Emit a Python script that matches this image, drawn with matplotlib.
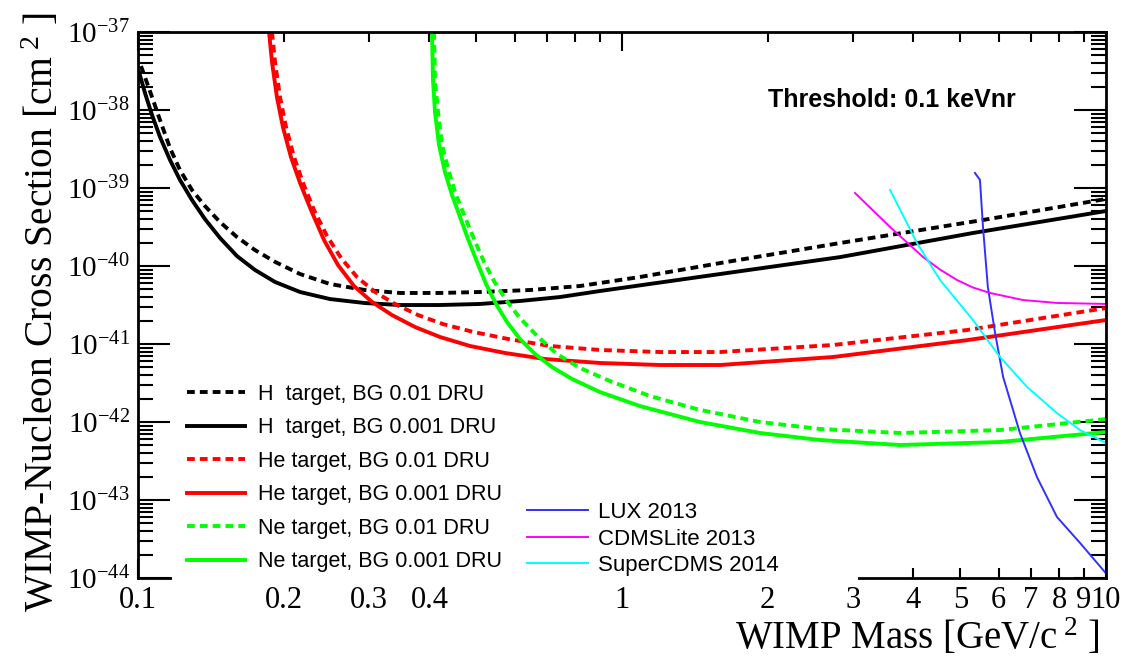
import numpy as np
import matplotlib
matplotlib.use("Agg")
import matplotlib.pyplot as plt
from matplotlib.ticker import FixedLocator, FixedFormatter, FuncFormatter, NullFormatter
from matplotlib.patches import Rectangle

plt.rcParams['font.family'] = 'Liberation Serif'
plt.rcParams['mathtext.fontset'] = 'custom'
plt.rcParams['mathtext.rm'] = 'Liberation Serif'
plt.rcParams['mathtext.it'] = 'Liberation Serif:italic'
plt.rcParams['mathtext.bf'] = 'Liberation Serif:bold'

# ---- projected sensitivities: WIMP mass [GeV/c^2] vs cross section [cm^2] ----
h_bg01_mass = [0.10144, 0.10388, 0.10689, 0.11103, 0.11644, 0.12210, 0.12927, 0.13750, 0.14770,
               0.16016, 0.17449, 0.19192, 0.21619, 0.24921, 0.29444, 0.34771, 0.42070, 0.50869,
               0.64532, 0.81895, 1.0894, 1.5939, 2.8210, 5.5695, 10.0]
h_bg01_xsec = [3.66e-38, 2.42e-38, 1.47e-38, 7.44e-39, 3.26e-39, 1.70e-39, 9.43e-40, 5.88e-40,
               3.66e-40, 2.35e-40, 1.60e-40, 1.13e-40, 7.89e-41, 5.88e-41, 4.92e-41, 4.51e-41,
               4.51e-41, 4.64e-41, 4.92e-41, 5.54e-41, 7.23e-41, 1.09e-40, 1.97e-40, 3.89e-40,
               7.23e-40]

h_bg001_mass = [0.10048, 0.10339, 0.10689, 0.11103, 0.11644, 0.12210, 0.12927, 0.13750, 0.14770,
                0.16016, 0.17449, 0.19192, 0.21619, 0.24921, 0.29444, 0.34771, 0.42070, 0.50869,
                0.61534, 0.74434, 0.90065, 1.5939, 2.8210, 5.3114, 10.0]
h_bg001_xsec = [3.07e-38, 1.65e-38, 8.63e-39, 4.51e-39, 2.29e-39, 1.27e-39, 7.02e-40, 4.00e-40,
                2.29e-40, 1.34e-40, 8.89e-41, 6.24e-41, 4.64e-41, 3.77e-41, 3.35e-41, 3.16e-41,
                3.16e-41, 3.26e-41, 3.56e-41, 4.00e-41, 4.78e-41, 7.89e-41, 1.30e-40, 2.65e-40,
                5.07e-40]

he_bg01_mass = [0.18918, 0.19192, 0.19653, 0.20222, 0.21008, 0.21929, 0.23101, 0.24582, 0.26267,
                0.28342, 0.30885, 0.33953, 0.37899, 0.42675, 0.49225, 0.58147, 0.70986, 0.90065,
                1.1981, 1.5939, 2.7286, 5.1606, 10.0]
he_bg01_xsec = [1.0e-37, 4.12e-38, 1.47e-38, 6.05e-39, 2.50e-39, 1.16e-39, 5.22e-40, 2.42e-40,
                1.27e-40, 7.23e-41, 4.64e-41, 3.26e-41, 2.35e-41, 1.80e-41, 1.43e-41, 1.16e-41,
                9.43e-42, 8.38e-42, 7.89e-42, 7.89e-42, 9.71e-42, 1.51e-41, 2.89e-41]

he_bg001_mass = [0.18651, 0.18918, 0.19364, 0.19925, 0.20700, 0.21619, 0.22774, 0.24233, 0.25895,
                 0.27941, 0.30448, 0.33473, 0.37362, 0.42070, 0.48527, 0.57322, 0.69337, 0.90065,
                 1.1981, 1.5939, 2.7286, 5.1606, 10.0]
he_bg001_xsec = [1.0e-37, 4.12e-38, 1.47e-38, 6.05e-39, 2.50e-39, 1.16e-39, 5.22e-40, 2.15e-40,
                 1.03e-40, 5.54e-41, 3.46e-41, 2.35e-41, 1.65e-41, 1.23e-41, 9.43e-42, 7.67e-42,
                 6.42e-42, 5.71e-42, 5.38e-42, 5.38e-42, 6.81e-42, 1.12e-41, 2.03e-41]

ne_bg01_mass = [0.40884, 0.41079, 0.41670, 0.42471, 0.43909, 0.45396, 0.47383, 0.49459, 0.51869,
                0.54393, 0.57596, 0.61534, 0.66755, 0.73378, 0.81895, 0.94450, 1.1427, 1.4493,
                1.9281, 2.5646, 3.7528, 6.0389, 10.0]
ne_bg01_xsec = [1.0e-37, 2.42e-38, 9.43e-39, 3.56e-39, 1.60e-39, 8.14e-40, 4.25e-40, 2.22e-40,
                1.13e-40, 6.42e-41, 3.66e-41, 2.15e-41, 1.27e-41, 7.44e-42, 4.92e-42, 3.35e-42,
                2.15e-42, 1.43e-42, 1.0e-42, 8.14e-43, 7.23e-43, 7.89e-43, 1.09e-42]

ne_bg001_mass = [0.40497, 0.40690, 0.41079, 0.41869, 0.43082, 0.44540, 0.46268, 0.48064, 0.50168,
                 0.52365, 0.54913, 0.57871, 0.61534, 0.66123, 0.71665, 0.78836, 0.90065, 1.0894,
                 1.4493, 1.9281, 2.5646, 3.7528, 6.0389, 10.0]
ne_bg001_xsec = [1.0e-37, 2.42e-38, 9.43e-39, 3.56e-39, 1.60e-39, 8.14e-40, 4.25e-40, 2.22e-40,
                 1.13e-40, 5.88e-41, 3.26e-41, 1.91e-41, 1.16e-41, 7.44e-42, 5.07e-42, 3.56e-42,
                 2.42e-42, 1.60e-42, 1.0e-42, 7.23e-43, 5.88e-43, 5.07e-43, 5.54e-43, 7.44e-43]

# ---- published experimental limits ----
lux_mass = [5.36, 5.49, 5.57, 5.70, 5.90, 6.13, 6.64, 7.20, 7.92, 8.84, 9.95]
lux_xsec = [1.56e-39, 1.27e-39, 3.16e-40, 5.38e-41, 1.38e-41, 3.78e-42, 7.23e-43, 1.97e-43,
            6.05e-44, 2.81e-44, 1.19e-44]

cdmslite_mass = [3.03, 3.58, 4.19, 4.539, 4.92, 5.311, 5.76, 6.74, 7.92, 10.0]
cdmslite_xsec = [8.63e-40, 3.16e-40, 1.30e-40, 9.02e-41, 6.62e-41, 5.30e-41, 4.51e-41, 3.66e-41,
                 3.36e-41, 3.26e-41]

supercdms_mass = [3.58, 4.07, 4.54, 5.31, 6.04, 6.87, 7.92, 8.84, 10.0]
supercdms_xsec = [9.42e-40, 1.97e-40, 6.62e-41, 2.03e-41, 6.81e-42, 2.81e-42, 1.30e-42,
                  7.89e-43, 5.38e-43]

target_labels = ["H  target, BG 0.01 DRU", "H  target, BG 0.001 DRU",
                 "He target, BG 0.01 DRU", "He target, BG 0.001 DRU",
                 "Ne target, BG 0.01 DRU", "Ne target, BG 0.001 DRU"]
limit_labels = ["LUX 2013", "CDMSLite 2013", "SuperCDMS 2014"]

x_major = [0.1, 1, 10]
x_major_labels = ["0.1", "1", "10"]
x_minor = [0.2, 0.3, 0.4, 0.5, 0.6, 0.7, 0.8, 0.9, 2, 3, 4, 5, 6, 7, 8, 9]
x_minor_labels = ["0.2", "0.3", "0.4", "", "", "", "", "", "2", "3", "4", "5", "6", "7", "8", "9"]
y_decades = [-44, -43, -42, -41, -40, -39, -38, -37]

W, H = 1122, 663
fig = plt.figure(figsize=(W / 100, H / 100), dpi=100)
ax = fig.add_axes([138 / W, 1 - 578 / H, (1106 - 138) / W, (578 - 32) / H])
ax.set_xscale('log')
ax.set_yscale('log')
ax.set_xlim(0.1, 10)
ax.set_ylim(1e-44, 1e-37)

thick = 2.8
dash = (0, (2.0, 1.3))
green = '#00ff00'
l1, = ax.plot(h_bg01_mass, h_bg01_xsec, color='black', lw=thick, ls=dash)
l2, = ax.plot(h_bg001_mass, h_bg001_xsec, color='black', lw=thick)
l3, = ax.plot(he_bg01_mass, he_bg01_xsec, color='#ff0000', lw=thick, ls=dash)
l4, = ax.plot(he_bg001_mass, he_bg001_xsec, color='#ff0000', lw=thick)
l5, = ax.plot(ne_bg01_mass, ne_bg01_xsec, color=green, lw=thick, ls=dash)
l6, = ax.plot(ne_bg001_mass, ne_bg001_xsec, color=green, lw=thick)
m1, = ax.plot(lux_mass, lux_xsec, color='#3030ff', lw=1.4)
m2, = ax.plot(cdmslite_mass, cdmslite_xsec, color='#ff00ff', lw=1.4)
m3, = ax.plot(supercdms_mass, supercdms_xsec, color='#00ffff', lw=1.4)

for s in ax.spines.values():
    s.set_linewidth(2.0)

ax.xaxis.set_major_locator(FixedLocator(x_major))
ax.xaxis.set_major_formatter(FixedFormatter(x_major_labels))
ax.xaxis.set_minor_locator(FixedLocator(x_minor))
ax.xaxis.set_minor_formatter(FixedFormatter(x_minor_labels))
ax.yaxis.set_major_locator(FixedLocator([10.0 ** d for d in y_decades]))
ax.yaxis.set_minor_locator(FixedLocator([k * 10.0 ** d for d in y_decades[:-1] for k in range(2, 10)]))
ax.yaxis.set_major_formatter(FuncFormatter(lambda v, p: r'$10^{%d}$' % int(round(np.log10(v)))))
ax.yaxis.set_minor_formatter(NullFormatter())

ax.tick_params(axis='x', which='both', direction='in', top=True, bottom=True,
               labelsize=22, pad=6, width=1.5)
ax.tick_params(axis='x', which='major', length=14)
ax.tick_params(axis='x', which='minor', length=7)
ax.tick_params(axis='y', which='both', direction='in', left=True, right=True,
               labelsize=21, pad=6, width=1.5)
ax.tick_params(axis='y', which='major', length=23)
ax.tick_params(axis='y', which='minor', length=11)

fig.text(42 / W, 1 - 312 / H, r"WIMP-Nucleon Cross Section [cm$^{\,\,2}$ ]",
         rotation=90, ha='center', va='center', fontsize=28.5)
fig.text(1100 / W, 1 - 638 / H, r"WIMP Mass [GeV/c$^{\,\,2}$ ]",
         ha='right', va='center', fontsize=28)

fig.text(768 / W, 1 - 100 / H, "Threshold: 0.1 keVnr", fontweight='bold',
         family='Liberation Sans', fontsize=18, va='center', ha='left')

# white legend panels that sit over the lower frame edge
for x0, x1, y0, y1 in [(172, 520, 372, 583), (520, 858, 492, 583)]:
    ax.add_patch(Rectangle((x0 / W, 1 - y1 / H), (x1 - x0) / W, (y1 - y0) / H,
                           transform=fig.transFigure, facecolor='white', edgecolor='none',
                           zorder=2.6, clip_on=False))

leg1 = ax.legend([l1, l2, l3, l4, l5, l6], target_labels, loc='upper left',
                 bbox_to_anchor=(187 / W, 1 - 384 / H), bbox_transform=fig.transFigure,
                 frameon=False, borderpad=0, borderaxespad=0, handlelength=2.7,
                 handletextpad=0.6, labelspacing=0.58,
                 prop={'family': 'Liberation Sans', 'size': 15.5})
ax.add_artist(leg1)
leg2 = ax.legend([m1, m2, m3], limit_labels, loc='upper left',
                 bbox_to_anchor=(527 / W, 1 - 502 / H), bbox_transform=fig.transFigure,
                 frameon=False, borderpad=0, borderaxespad=0, handlelength=2.75,
                 handletextpad=0.45, labelspacing=0.25,
                 prop={'family': 'Liberation Sans', 'size': 16})

fig.savefig('out.png', dpi=100, facecolor='white')
